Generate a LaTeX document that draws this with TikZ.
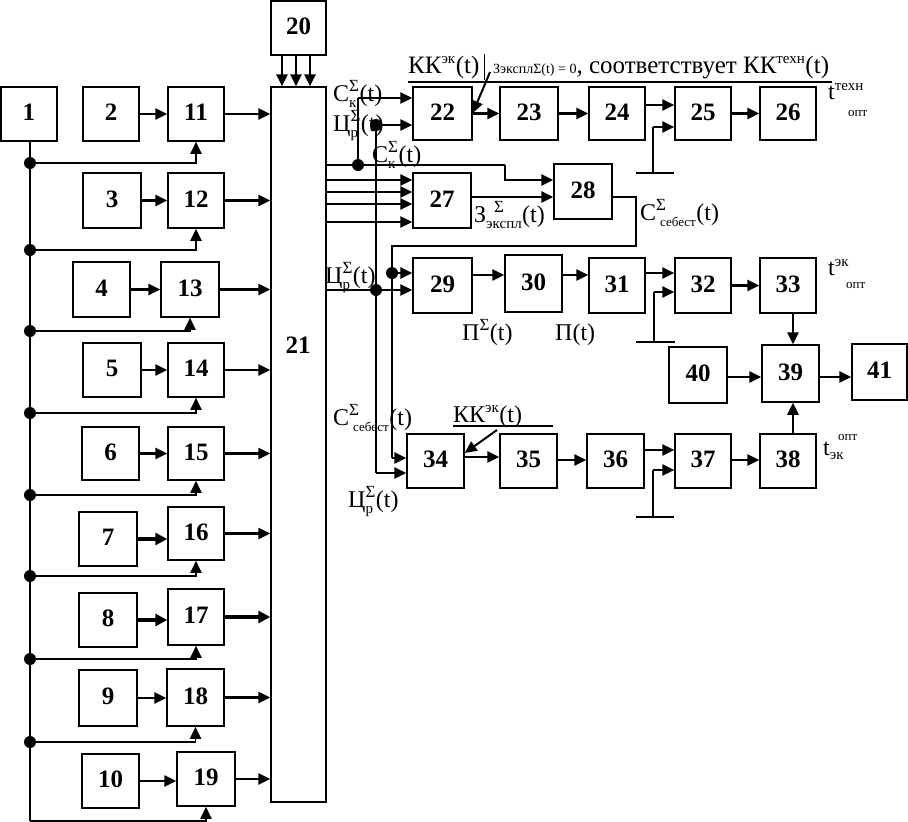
\documentclass[tikz,border=0pt]{standalone}
\usepackage{amsmath}
\usepackage{fontspec}
\setmainfont{Liberation Serif}
\usetikzlibrary{arrows.meta,calc}
\tikzset{
  box/.style={draw, line width=1.5pt, inner sep=0pt, font=\bfseries\fontsize{25}{25}\selectfont},
  arr/.style={line width=2.6pt, -{Triangle[length=12pt,width=11pt]}},
  thickarr/.style={line width=4pt, -{Triangle[length=12pt,width=12pt]}},
  thinarr/.style={line width=1.4pt, -{Triangle[length=12pt,width=11pt]}},
  ln/.style={line width=1.3pt},
  bar/.style={line width=2pt},
  jdot/.style={circle, fill, inner sep=0pt, minimum size=12pt},
  lab/.style={font=\fontsize{24}{24}\selectfont, inner sep=0pt, anchor=base west}
}
\newcommand\mybox[6]{\node[box, minimum width={\the\numexpr#4-#2\relax pt}, minimum height={\the\numexpr#5-#3\relax pt}] (#1) at ({(#2+#4)/2},{(#3+#5)/2}) {\raisebox{3pt}{#6}};}
% sizes for indices
\newcommand\sgm{\text{\fontsize{17}{17}\selectfont Σ}}
\newcommand\ix[1]{\text{\fontsize{15}{15}\selectfont #1}}
\newcommand\sx[1]{\text{\fontsize{13}{13}\selectfont #1}}
\begin{document}
\begin{tikzpicture}[x=1pt,y=-1pt]
\useasboundingbox (0,0) rectangle (908,822);
% left column
\mybox{n1}{1}{87}{57}{141}{1}
\mybox{n2}{83}{87}{139}{141}{2}
\mybox{n11}{168}{87}{224}{141}{11}
\mybox{n20}{271}{1}{326}{55}{20}
\mybox{n21}{271}{87}{326}{802}{}
\node[font=\bfseries\fontsize{25}{25}\selectfont, inner sep=0pt] (t21) at (298,345) {21};
\mybox{n3}{83}{173}{141}{228}{3}
\mybox{n12}{168}{173}{224}{228}{12}
\mybox{n4}{73}{262}{130}{317}{4}
\mybox{n13}{161}{262}{219}{317}{13}
\mybox{n5}{83}{343}{141}{397}{5}
\mybox{n14}{168}{343}{224}{397}{14}
\mybox{n6}{82}{427}{139}{480}{6}
\mybox{n15}{168}{427}{224}{480}{15}
\mybox{n7}{79}{512}{137}{566}{7}
\mybox{n16}{168}{507}{224}{560}{16}
\mybox{n8}{79}{593}{137}{647}{8}
\mybox{n17}{168}{589}{224}{645}{17}
\mybox{n9}{79}{670}{137}{726}{9}
\mybox{n18}{167}{669}{224}{726}{18}
\mybox{n10}{82}{754}{139}{808}{10}
\mybox{n19}{177}{752}{235}{806}{19}
% right part
\mybox{n22}{413}{87}{472}{140}{22}
\mybox{n23}{500}{87}{558}{140}{23}
\mybox{n24}{589}{87}{645}{140}{24}
\mybox{n25}{675}{87}{731}{140}{25}
\mybox{n26}{760}{87}{816}{140}{26}
\mybox{n27}{413}{173}{471}{228}{27}
\mybox{n28}{554}{164}{612}{219}{28}
\mybox{n29}{413}{258}{472}{313}{29}
\mybox{n30}{505}{255}{562}{312}{30}
\mybox{n31}{589}{258}{645}{313}{31}
\mybox{n32}{675}{258}{731}{313}{32}
\mybox{n33}{760}{258}{816}{313}{33}
\mybox{n40}{669}{347}{727}{403}{40}
\mybox{n39}{762}{345}{819}{402}{39}
\mybox{n41}{852}{344}{907}{400}{41}
\mybox{n34}{407}{434}{464}{488}{34}
\mybox{n35}{500}{434}{557}{488}{35}
\mybox{n36}{587}{434}{644}{488}{36}
\mybox{n37}{675}{434}{731}{488}{37}
\mybox{n38}{760}{434}{816}{488}{38}

% 20 -> 21
\foreach \xx in {282,296,310} \draw[arr] (n20.south -| \xx,0) -- (n21.north -| \xx,0);

% rows: source -> combiner -> 21
\foreach \a/\b in {n2/n11,n3/n12,n4/n13,n5/n14,n6/n15,n9/n18,n10/n19}
  \draw[arr] (\a.east) -- (\a.east -| \b.west);
\foreach \a/\b in {n7/n16,n8/n17}
  \draw[thickarr] (\a.east) -- (\a.east -| \b.west);
\foreach \b in {n11,n12,n13,n14,n15,n16,n18,n19}
  \draw[arr] (\b.east) -- (\b.east -| n21.west);
\draw[thickarr] (n17.east) -- (n17.east -| n21.west);

% bus from 1
\coordinate (d1) at (30,163);
\coordinate (d2) at (30,250);
\coordinate (d3) at (30,331);
\coordinate (d4) at (30,413);
\coordinate (d5) at (30,495);
\coordinate (d6) at (30,576);
\coordinate (d7) at (30,659);
\coordinate (d8) at (30,742);
\coordinate (dend) at (30,821);
\draw[ln] (n1.south -| 30,0) -- (dend);
\foreach \d/\b in {d1/n11,d2/n12,d3/n13,d4/n14,d5/n15,d6/n16,d7/n17,d8/n18}{
  \draw[arr, line width=1.8pt] (\d) -| (\b.south);
  \node[jdot] at (\d) {};
}
\draw[arr, line width=1.8pt] (dend) -| (n19.south);

% outputs of 21 to the right
\coordinate (ckA) at (358,165);
\coordinate (ckB) at (505,165);
\draw[ln] (n21.east |- ckA) -- (ckB);
\draw[arr] (ckB) -- (505,180) -- (n28.west |- 0,180);
\draw[ln] (ckA) -- (358,98);
\draw[arr] (358,98) -- (n22.west |- 0,98);
\node[jdot] at (ckA) {};

\coordinate (crA) at (376,290);
\coordinate (crT) at (376,125);
\coordinate (crB) at (376,473);
\draw[arr] (n21.east |- crA) -- (n29.west |- crA);
\draw[ln] (crT) -- (crB);
\draw[arr] (crT) -- (n22.west |- crT);
\draw[arr] (crB) -- (n34.west |- crB);
\node[jdot] at (crA) {};
\node[jdot] at (crT) {};

\foreach \yy in {180,192,204,222} \draw[arr] (n21.east |- 0,\yy) -- (n27.west |- 0,\yy);
\draw[arr] (n27.east |- 0,197) -- (n28.west |- 0,197);

% C sebest feedback
\coordinate (cs1) at (636,197);
\coordinate (cs2) at (636,246);
\coordinate (cs3) at (392,246);
\coordinate (csd) at (392,273);
\coordinate (cs4) at (392,458);
\draw[ln] (n28.east |- cs1) -- (cs1) -- (cs2) -- (cs3) -- (cs4);
\draw[arr] (csd) -- (n29.west |- csd);
\draw[arr] (cs4) -- (n34.west |- cs4);
\node[jdot] at (csd) {};

% chain 22-26
\draw[arr] (n22.east) -- (n23.west);
\draw[arr] (n23.east) -- (n24.west);
\draw[arr] (n24.east |- 0,105) -- (n25.west |- 0,105);
\draw[arr] (n25.east) -- (n26.west);
\coordinate (g1) at (653,173);
\draw[bar] (636,173) -- (674,173);
\draw[ln] (g1) -- (653,127);
\draw[arr] (653,127) -- (n25.west |- 0,127);

% top label
\draw[ln] (408,82) -- (832,82);
\node[lab, font=\fontsize{25}{25}\selectfont] (toplab) at (408,73) {КК$^{\ix{эк}}$(t)\,\rule[-7pt]{1.2pt}{26pt}\,\,{\fontsize{14}{14}\selectfont ЗэксплΣ(t) = 0}, соответствует КК$^{\ix{техн}}$(t)};
\coordinate (la1) at (490,72);
\draw[thinarr, line width=2pt] (la1) -- (n22.east |- 0,113);
\node[lab] (ttexn) at (828,99) {t\raisebox{9pt}{\fontsize{15}{15}\selectfont техн}};
\node[lab, font=\fontsize{13}{13}\selectfont] (topt1) at (848,116) {опт};

% chain 29-33
\draw[arr] (n29.east |- 0,275) -- (n30.west |- 0,275);
\draw[arr] (n30.east |- 0,275) -- (n31.west |- 0,275);
\draw[arr] (n31.east |- 0,273) -- (n32.west |- 0,273);
\coordinate (g2) at (654,342);
\draw[bar] (636,342) -- (675,342);
\draw[ln] (g2) -- (654,292);
\draw[arr] (654,292) -- (n32.west |- 0,292);
\draw[arr] (n32.east) -- (n33.west);
\draw[arr] (n33.south -| 793,0) -- (n39.north -| 793,0);
\draw[arr] (n40.east |- 0,377) -- (n39.west |- 0,377);
\draw[arr] (n39.east |- 0,377) -- (n41.west |- 0,377);
\draw[arr] (n38.north -| 793,0) -- (n39.south -| 793,0);

% chain 34-38
\draw[arr] (n34.east |- 0,457) -- (n35.west |- 0,457);
\draw[arr] (n35.east |- 0,460) -- (n36.west |- 0,460);
\draw[arr] (n36.east |- 0,450) -- (n37.west |- 0,450);
\coordinate (g3) at (653,517);
\draw[bar] (636,517) -- (674,517);
\draw[ln] (g3) -- (653,470);
\draw[arr] (653,470) -- (n37.west |- 0,470);
\draw[arr] (n37.east |- 0,460) -- (n38.west |- 0,460);

% KK eK label
\draw[ln] (453,426) -- (553,426);
\node[lab] (kkek) at (453,422) {КК$^{\ix{эк}}$(t)};
\draw[thinarr, line width=2pt] (497,430) -- (n34.east |- 0,453);

% labels
\node[lab] (l1) at (333,101) {С$_{\ix{к}}^{\sgm}$(t)};
\node[lab] (l2) at (333,131) {Ц$_{\ix{р}}^{\sgm}$(t)};
\node[lab] (l3) at (372,162) {С$_{\ix{к}}^{\sgm}$(t)};
\node[lab] (l4) at (325,283) {Ц$_{\ix{р}}^{\sgm}$(t)};
\node[lab] (l5) at (474,222) {З$_{\ix{экспл}}^{\hspace{8pt}\sgm}$(t)};
\node[lab] (l6) at (640,220) {С$^{\sgm}_{\hspace{4pt}\sx{себест}}$(t)};
\node[lab] (l7) at (462,340) {П$^{\sgm}$(t)};
\node[lab] (l8) at (555,340) {П(t)};
\node[lab] (l9) at (333,425) {С$^{\sgm}_{\hspace{4pt}\sx{себест}}$(t)};
\node[lab] (l10) at (348,507) {Ц$_{\ix{р}}^{\sgm}$(t)};
\node[lab] (l11) at (828,275) {t\raisebox{9pt}{\fontsize{15}{15}\selectfont эк}};
\node[lab, font=\fontsize{13}{13}\selectfont] (topt2) at (846,288) {опт};
\node[lab] (l12) at (823,455) {t\raisebox{-4pt}{\fontsize{15}{15}\selectfont эк}};
\node[lab, font=\fontsize{13}{13}\selectfont] (topt3) at (838,440) {опт};
\end{tikzpicture}
\end{document}
